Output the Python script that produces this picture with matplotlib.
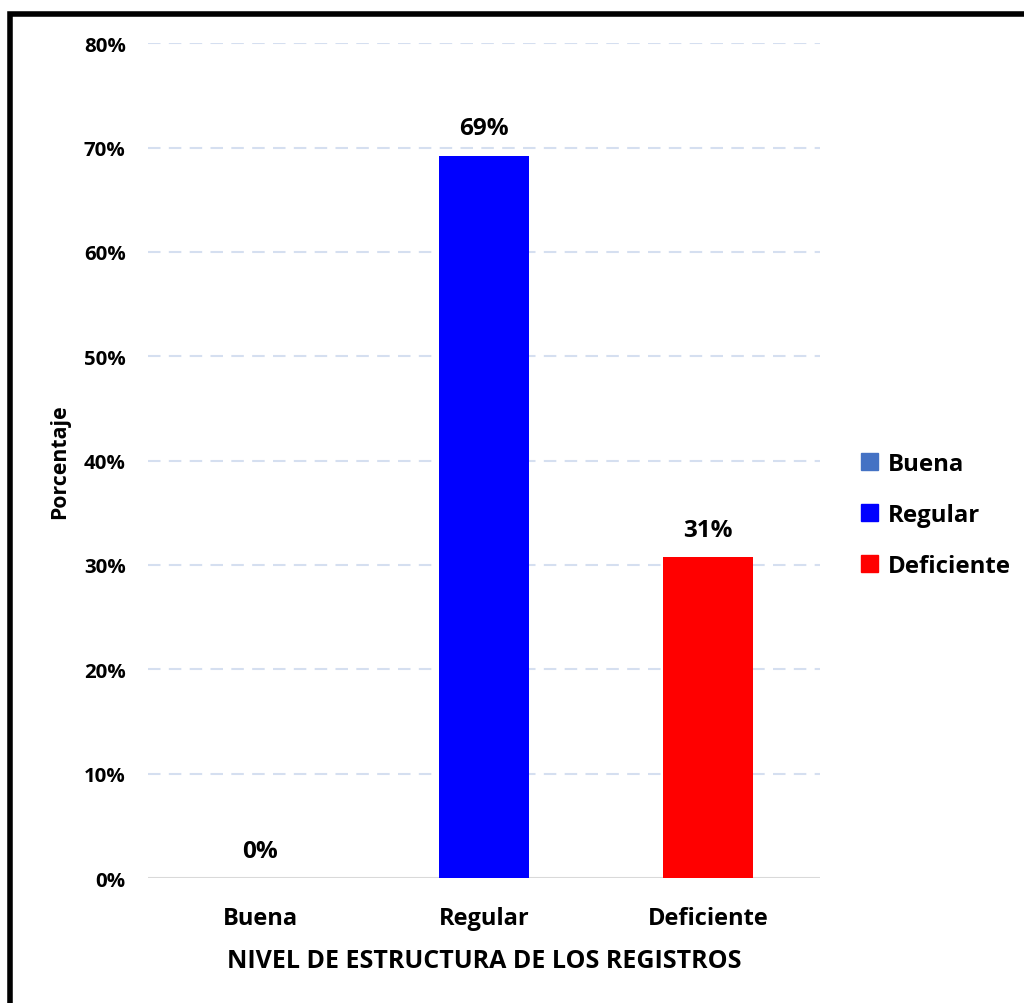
import matplotlib.pyplot as plt
from matplotlib.patches import Rectangle

# data
categories = ['Buena', 'Regular', 'Deficiente']
values = [0, 69.23, 30.77]
labels = ['0%', '69%', '31%']
colors = ['#4472C4', '#0000FF', '#FF0000']
yticks = [0, 10, 20, 30, 40, 50, 60, 70, 80]

plt.rcParams['font.family'] = ['Open Sans', 'DejaVu Sans']
plt.rcParams['font.weight'] = 'bold'

fig = plt.figure(figsize=(10.24, 10.04), dpi=100)
ax = fig.add_axes([0.1445, 0.1245, 0.6563, 0.8315])

x = range(len(categories))
bars = ax.bar(x, values, width=0.4, color=colors, label=categories, zorder=3)

for xi, v, lab in zip(x, values, labels):
    ax.text(xi, v + 2.6, lab, ha='center', va='center', fontsize=17.5, fontweight='bold')

ax.set_xlim(-0.5, 2.5)
ax.set_ylim(0, 80)
ax.set_yticks(yticks)
ax.set_yticklabels([f'{t}%' for t in yticks], fontsize=14.7, fontweight='bold')
ax.set_xticks(list(x))
ax.set_xticklabels(categories, fontsize=17, fontweight='bold')
ax.tick_params(axis='y', length=0, pad=16)
ax.tick_params(axis='x', length=0, pad=20)

for t in yticks[1:]:
    ax.axhline(t, color='#D5DFF0', lw=1.5, ls=(0, (6, 4)), zorder=1)
ax.axhline(0, color='#D9D9D9', lw=1.5, zorder=2)

for s in ax.spines.values():
    s.set_visible(False)

ax.set_xlabel('NIVEL DE ESTRUCTURA DE LOS REGISTROS', fontsize=18, fontweight='bold', labelpad=13)
ax.set_ylabel('Porcentaje', fontsize=15.3, fontweight='bold', labelpad=10)

handles = [Rectangle((0, 0), 1, 1, color=c) for c in colors]
fig.legend(handles, categories, loc='center left', bbox_to_anchor=(0.82, 0.486),
           frameon=False, prop={'weight': 'bold', 'size': 17.3},
           handlelength=0.7, handleheight=0.7, handletextpad=0.4, labelspacing=1.12)

# outer frame
fig.patches.append(Rectangle((0.0095, -0.05), 1.1, 1.0355,
                             transform=fig.transFigure, fill=False,
                             edgecolor='black', lw=4, zorder=10))

fig.savefig('out.png', dpi=100)
